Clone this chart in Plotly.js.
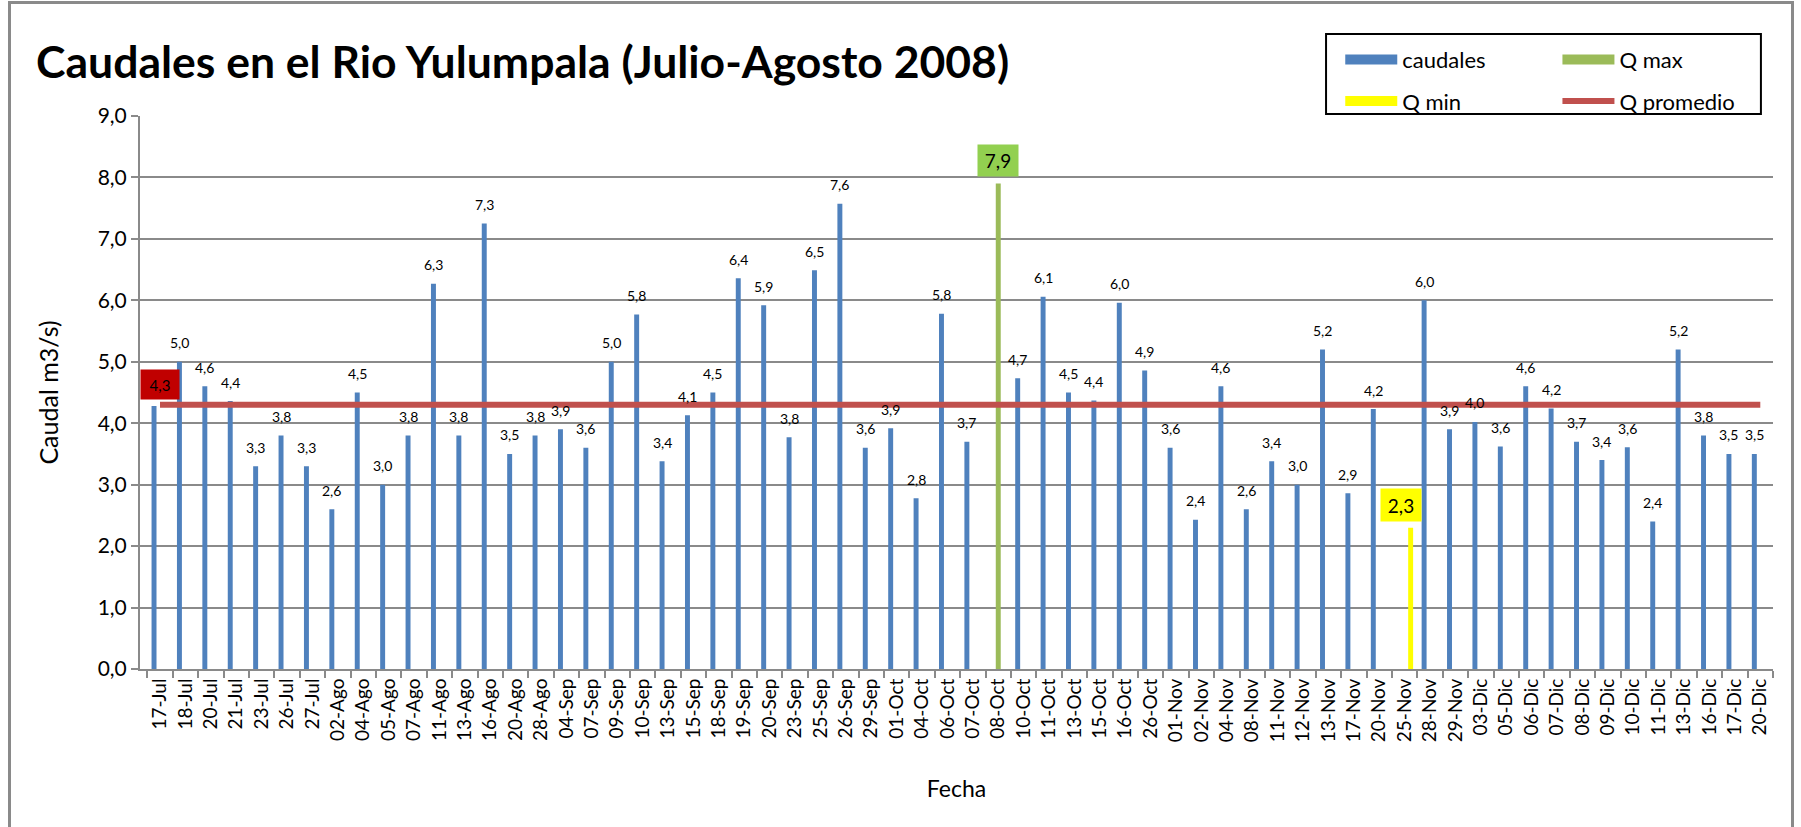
<!DOCTYPE html>
<html>
<head>
<meta charset="utf-8">
<script src="https://cdn.plot.ly/plotly-3.0.1.min.js"></script>
<style>
  body { margin: 0; background: #fff; }
  #grafico { width: 1801px; height: 827px; }
  #marco { position: absolute; left: 8px; top: 1px; width: 1780px; height: 900px;
           border: 3px solid #8a8a8a; pointer-events: none; }
</style>
</head>
<body>
<div id="grafico"></div>
<div id="marco"></div>
<script>
// fechas de medicion
var fechas = ['17-Jul','18-Jul','20-Jul','21-Jul','23-Jul','26-Jul','27-Jul',
  '02-Ago','04-Ago','05-Ago','07-Ago','11-Ago','13-Ago','16-Ago','20-Ago','28-Ago',
  '04-Sep','07-Sep','09-Sep','10-Sep','13-Sep','15-Sep','18-Sep','19-Sep','20-Sep','23-Sep','25-Sep','26-Sep','29-Sep',
  '01-Oct','04-Oct','06-Oct','07-Oct','08-Oct','10-Oct','11-Oct','13-Oct','15-Oct','16-Oct','26-Oct',
  '01-Nov','02-Nov','04-Nov','08-Nov','11-Nov','12-Nov','13-Nov','17-Nov','20-Nov','25-Nov','28-Nov','29-Nov',
  '03-Dic','05-Dic','06-Dic','07-Dic','08-Dic','09-Dic','10-Dic','11-Dic','13-Dic','16-Dic','17-Dic','20-Dic'];

// caudales m3/s (null donde va Q max / Q min)
var caudales = [4.28, 5.0, 4.6, 4.36, 3.3, 3.8, 3.3,
  2.6, 4.5, 3.0, 3.8, 6.27, 3.8, 7.25, 3.5, 3.8,
  3.9, 3.6, 5.0, 5.77, 3.38, 4.13, 4.5, 6.36, 5.92, 3.77, 6.49, 7.57, 3.6,
  3.92, 2.78, 5.78, 3.7, null, 4.73, 6.06, 4.5, 4.37, 5.96, 4.86,
  3.6, 2.43, 4.6, 2.6, 3.38, 3.0, 5.2, 2.86, 4.23, null, 6.0, 3.9,
  4.02, 3.62, 4.6, 4.24, 3.7, 3.4, 3.61, 2.4, 5.2, 3.8, 3.5, 3.5];

var qMaxFecha = '08-Oct';
var qMaxValor = 7.9;
var qMinFecha = '25-Nov';
var qMinValor = 2.3;
var qPromedio = 4.3;

var azul = '#4F81BD', verde = '#9BBB59', amarillo = '#FFFF00', rojo = '#C0504D';

function fmt(v) { return v.toFixed(1).replace('.', ','); }

var trazaCaudal = {
  x: fechas, y: caudales, type: 'bar', name: 'caudales',
  marker: {color: azul}, showlegend: false, hoverinfo: 'x+y'
};
var trazaMax = {
  x: fechas, y: fechas.map(function (f) { return f === qMaxFecha ? qMaxValor : null; }),
  type: 'bar', name: 'Q max', marker: {color: verde}, showlegend: false
};
var trazaMin = {
  x: fechas, y: fechas.map(function (f) { return f === qMinFecha ? qMinValor : null; }),
  type: 'bar', name: 'Q min', marker: {color: amarillo}, showlegend: false
};
var trazaProm = {
  x: fechas, y: fechas.map(function () { return qPromedio; }),
  type: 'scatter', mode: 'lines', name: 'Q promedio',
  line: {color: rojo, width: 6}, legend: 'legend2', legendgroup: 'b2', legendrank: 2
};

// entradas de leyenda con muestras anchas como en Excel
function muestra(nombre, color, leyenda, grupo, rango) {
  return {x: [null], y: [null], type: 'scatter', mode: 'lines', name: nombre,
          line: {color: color, width: 13}, legend: leyenda, legendgroup: grupo,
          legendrank: rango, hoverinfo: 'skip'};
}

var data = [trazaCaudal, trazaMax, trazaMin, trazaProm,
  muestra('caudales', azul, 'legend', 'a1', 1),
  muestra('Q min', amarillo, 'legend', 'a2', 2),
  muestra('Q max', verde, 'legend2', 'b1', 1)];

// etiquetas de valores (la primera queda tapada por la etiqueta del promedio)
var anotaciones = [];
fechas.forEach(function (f, i) {
  if (caudales[i] === null || i === 0) return;
  anotaciones.push({x: f, y: caudales[i], text: fmt(caudales[i]), showarrow: false,
    xshift: -6, yshift: 19, yanchor: 'middle', font: {size: 14, color: '#000'}});
});
anotaciones.push({x: qMaxFecha, y: qMaxValor, text: fmt(qMaxValor), showarrow: false,
  yshift: 23, yanchor: 'middle', bgcolor: '#92D050', width: 38, height: 29,
  font: {size: 19, color: '#000'}});
anotaciones.push({x: qMinFecha, y: qMinValor, text: fmt(qMinValor), showarrow: false,
  xshift: -4, yshift: 23, yanchor: 'middle', bgcolor: amarillo, width: 38, height: 30,
  font: {size: 19, color: '#000'}});
anotaciones.push({x: fechas[0], y: qPromedio, text: fmt(qPromedio), showarrow: false,
  yshift: 20, yanchor: 'middle', bgcolor: '#C00000', width: 36, height: 27,
  font: {size: 15, color: '#000'}});

var fuente = 'Lato, "Open Sans", sans-serif';

var layout = {
  width: 1801, height: 827,
  margin: {l: 140, r: 28, t: 116, b: 158},
  font: {family: fuente, color: '#000'},
  separators: ',.',
  paper_bgcolor: '#fff', plot_bgcolor: '#fff',
  title: {text: '<b>Caudales en el Rio Yulumpala (Julio-Agosto 2008)</b>',
    font: {size: 44.5, color: '#000'}, xref: 'container', x: 0.02, xanchor: 'left',
    yref: 'container', y: 0.925, yanchor: 'middle'},
  barmode: 'group', bargap: 0.295, bargroupgap: 0.17,
  xaxis: {
    type: 'category', tickangle: -90, tickfont: {size: 19},
    ticks: 'outside', tickson: 'boundaries', ticklen: 7, tickcolor: '#8a8a8a', tickwidth: 2,
    showline: true, linecolor: '#8a8a8a', linewidth: 2, showgrid: false,
    title: {text: 'Fecha', font: {size: 23}, standoff: 40}
  },
  yaxis: {
    range: [0, 9], dtick: 1, tickformat: '.1f', tickfont: {size: 21},
    ticks: 'outside', ticklen: 7, tickcolor: '#8a8a8a', tickwidth: 2,
    showline: true, linecolor: '#8a8a8a', linewidth: 2,
    gridcolor: '#8a8a8a', gridwidth: 2, zeroline: false,
    title: {text: 'Caudal m3/s)', font: {size: 25}, standoff: 32}
  },
  legend: {x: 0.735, y: 1.14, xanchor: 'left', yanchor: 'top', font: {size: 22},
    itemwidth: 52, tracegroupgap: 10, bgcolor: 'rgba(0,0,0,0)'},
  legend2: {x: 0.868, y: 1.14, xanchor: 'left', yanchor: 'top', font: {size: 22},
    itemwidth: 52, tracegroupgap: 10, bgcolor: 'rgba(0,0,0,0)'},
  shapes: [{type: 'rect', xref: 'paper', yref: 'paper', x0: 0.7263, x1: 0.9926,
    y0: 1.0036, y1: 1.1484, line: {color: '#000', width: 2}}],
  annotations: anotaciones
};

Plotly.newPlot('grafico', data, layout, {displayModeBar: false});
</script>
</body>
</html>
